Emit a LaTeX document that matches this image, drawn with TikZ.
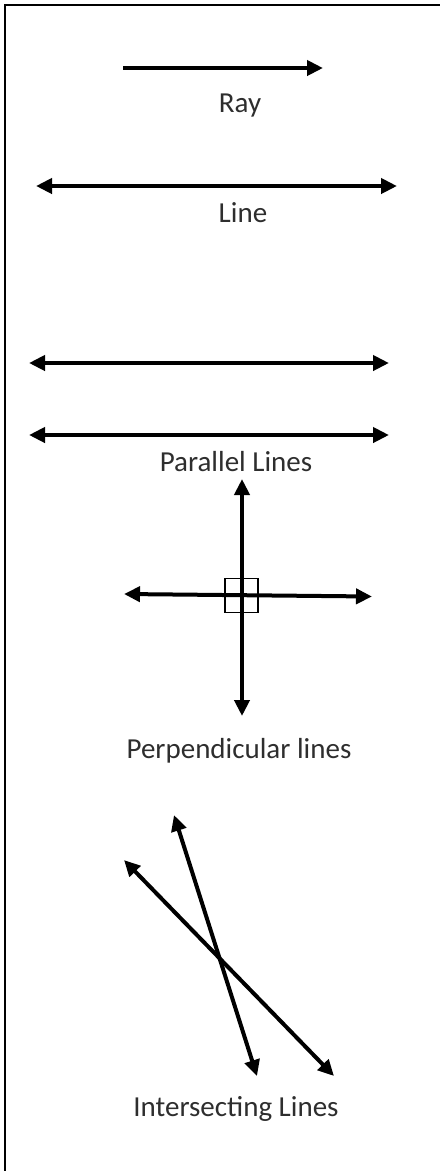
\documentclass[tikz,border=0pt]{standalone}
\usepackage{fontspec}
\setmainfont{Carlito}
\usetikzlibrary{arrows.meta}
\begin{document}
\begin{tikzpicture}[x=1pt,y=-1pt,
  mytip/.tip={Triangle[length=16pt,width=15pt]},
  geo/.style={line width=4pt,black},
  ray/.style={geo,-{mytip}},
  dline/.style={geo,{mytip}-{mytip}},
  lbl/.style={anchor=base,inner sep=0pt,text=black!82,font=\fontsize{29}{34}\selectfont},
  frame/.style={line width=2pt,black}]
\useasboundingbox (0,0) rectangle (440,1171);
% frame (left and top edges only visible)
\coordinate (fTL) at (5,4.5);
\coordinate (fTR) at (440,4.5);
\coordinate (fBL) at (5,1171);
\draw[frame] (fBL) -- (fTL) -- (fTR);
% Ray
\coordinate (r1) at (123,68);
\coordinate (r2) at (323,68);
\draw[ray] (r1) -- (r2);
\node[lbl] (tRay) at (240,112) {Ray};
% Line
\coordinate (l1) at (36,186);
\coordinate (l2) at (397,186);
\draw[dline] (l1) -- (l2);
\node[lbl] (tLine) at (243,222) {Line};
% Parallel lines
\coordinate (p1) at (29,363);
\coordinate (p2) at (389,363);
\coordinate (p3) at (29,435);
\coordinate (p4) at (389,435);
\draw[dline] (p1) -- (p2);
\draw[dline] (p3) -- (p4);
\node[lbl] (tPar) at (236,471) {Parallel Lines};
% Perpendicular lines
\coordinate (v1) at (242,479);
\coordinate (v2) at (242,716);
\coordinate (h1) at (124,594);
\coordinate (h2) at (372,596.5);
\draw[dline] (v1) -- (v2);
\draw[dline] (h1) -- (h2);
\node[draw,line width=1.4pt,minimum width=33pt,minimum height=34pt,inner sep=0pt] (sq) at (241.5,595.5) {};
\node[lbl] (tPerp) at (239,758) {Perpendicular lines};
% Intersecting lines
\coordinate (a1) at (174,815);
\coordinate (a2) at (257,1076);
\coordinate (b1) at (124,860);
\coordinate (b2) at (334,1076);
\draw[dline] (a1) -- (a2);
\draw[dline] (b1) -- (b2);
\node[lbl] (tInt) at (236,1116) {Intersecting Lines};
\end{tikzpicture}
\end{document}
